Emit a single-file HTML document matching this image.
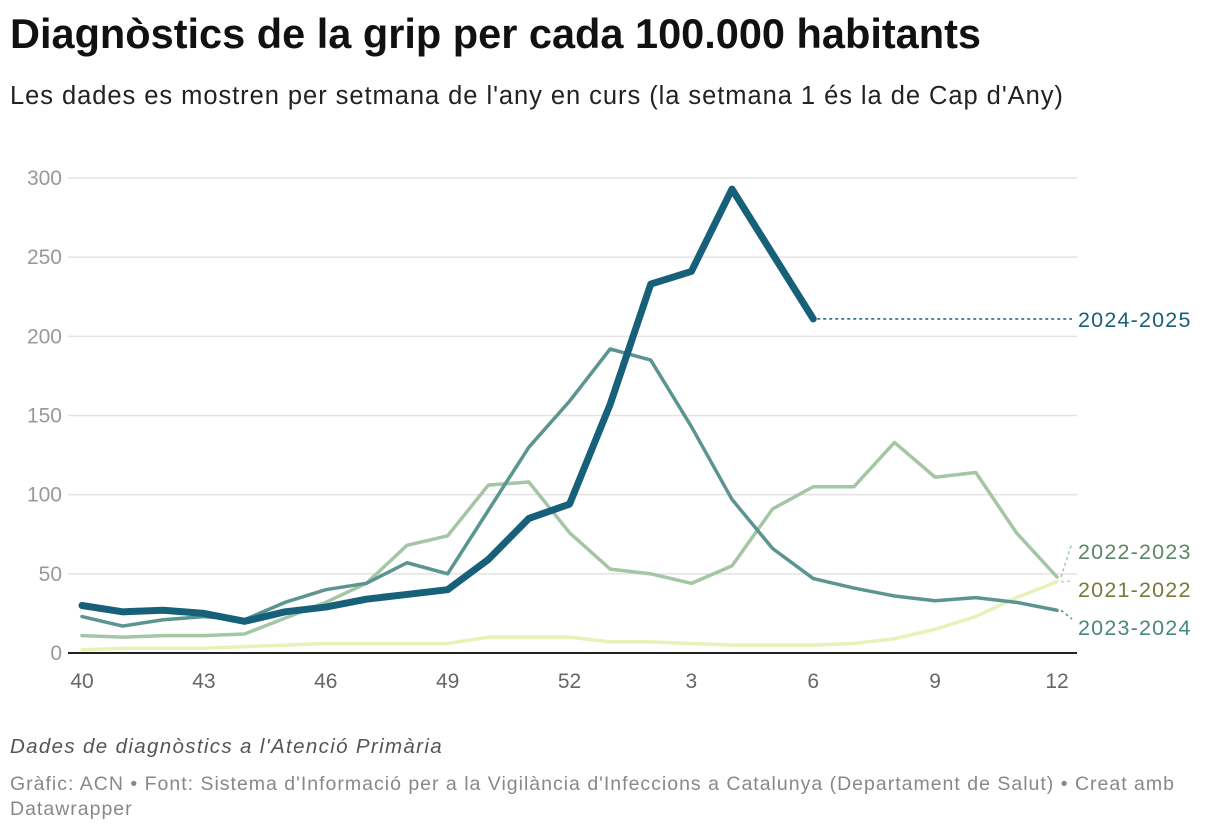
<!DOCTYPE html>
<html><head><meta charset="utf-8"><style>
body{margin:0;width:1220px;height:834px;background:#fff;font-family:"Liberation Sans",sans-serif;overflow:hidden;position:relative}
.t{position:absolute;left:10px;top:10px;font-size:41.5px;font-weight:bold;color:#111;letter-spacing:0px}
.s{position:absolute;left:10px;top:82px;font-size:25.5px;color:#222;letter-spacing:0.95px}
.n{position:absolute;left:10px;top:735px;font-size:20.5px;font-style:italic;color:#555;letter-spacing:1.35px}
.src{position:absolute;left:10px;top:772px;font-size:19.5px;color:#888;line-height:25px;width:1190px;letter-spacing:1.0px}
svg{position:absolute;left:0;top:0}
</style></head><body>
<div class="t">Diagnòstics de la grip per cada 100.000 habitants</div>
<div class="s">Les dades es mostren per setmana de l'any en curs (la setmana 1 és la de Cap d'Any)</div>
<svg id="c" width="1220" height="834"></svg>
<div class="n">Dades de diagnòstics a l'Atenció Primària</div>
<div class="src">Gràfic: ACN • Font: Sistema d'Informació per a la Vigilància d'Infeccions a Catalunya (Departament de Salut) • Creat amb Datawrapper</div>
<script>
const weeks=[40,41,42,43,44,45,46,47,48,49,50,51,52,1,2,3,4,5,6,7,8,9,10,11,12];
const yTicks=[0,50,100,150,200,250,300];
const xTickLabels=[40,43,46,49,52,3,6,9,12];
const s2122=[2,3,3,3,4,5,6,6,6,6,10,10,10,7,7,6,5,5,5,6,9,15,23,35,45];
const s2223=[11,10,11,11,12,22,32,44,68,74,106,108,76,53,50,44,55,91,105,105,133,111,114,76,48];
const s2324=[23,17,21,23,21,32,40,44,57,50,90,130,159,192,185,143,97,66,47,41,36,33,35,32,27];
const s2425=[30,26,27,25,20,26,29,34,37,40,59,85,94,157,233,241,293,252,211];
const svg=document.getElementById('c');const NS='http://www.w3.org/2000/svg';
const X=i=>82+i*(1057-82)/(weeks.length-1);
const Y=v=>653-v*(653-178)/300;
function mk(t,a){const e=document.createElementNS(NS,t);for(const k in a)e.setAttribute(k,a[k]);svg.appendChild(e);return e;}
yTicks.forEach(v=>{
 const l=mk('line',{x1:68,x2:1077,y1:Y(v),y2:Y(v),stroke:v===0?'#222':'#e3e3e3','stroke-width':v===0?2:1.5});
 
 
 const t=mk('text',{x:62,y:Y(v)+7,'text-anchor':'end','font-size':21,fill:'#999'});t.textContent=v;
 
 
});
xTickLabels.forEach(w=>{const i=weeks.indexOf(w);
 const t=mk('text',{x:X(i),y:688,'text-anchor':'middle','font-size':21,fill:'#666'});t.textContent=w;
 
 
});
const series=[
 {d:s2122,c:'#e8f2b8',w:3.5,name:'2021-2022',ly:589,lc:'#7a7838'},
 {d:s2223,c:'#a3c6a5',w:3.5,name:'2022-2023',ly:551,lc:'#5d8565'},
 {d:s2324,c:'#5b9490',w:3.5,name:'2023-2024',ly:627,lc:'#4a8585'},
 {d:s2425,c:'#17607a',w:7,name:'2024-2025',ly:319,lc:'#17607a'}];
series.forEach(s=>{
 const pts=s.d.map((v,i)=>X(i)+','+Y(v)).join(' ');
 const p=mk('polyline',{points:pts,fill:'none',stroke:s.c,'stroke-width':s.w,'stroke-linejoin':'round','stroke-linecap':'round'});
 
 
 const li=s.d.length-1,ex=X(li),ey=Y(s.d[li]);
 const d=mk('line',{x1:ex+4,y1:ey,x2:1072,y2:s.ly-8+ (s.name==='2024-2025'?8:0),stroke:s.c==='#e8f2b8'?'#c8d890':s.c,'stroke-width':1.5,'stroke-dasharray':'3,3'});
 
 
 const t=mk('text',{x:1078,y:s.ly+8,'font-size':21.5,fill:s.lc,'letter-spacing':1.2});t.textContent=s.name;
 
 
});
</script>
</body></html>
